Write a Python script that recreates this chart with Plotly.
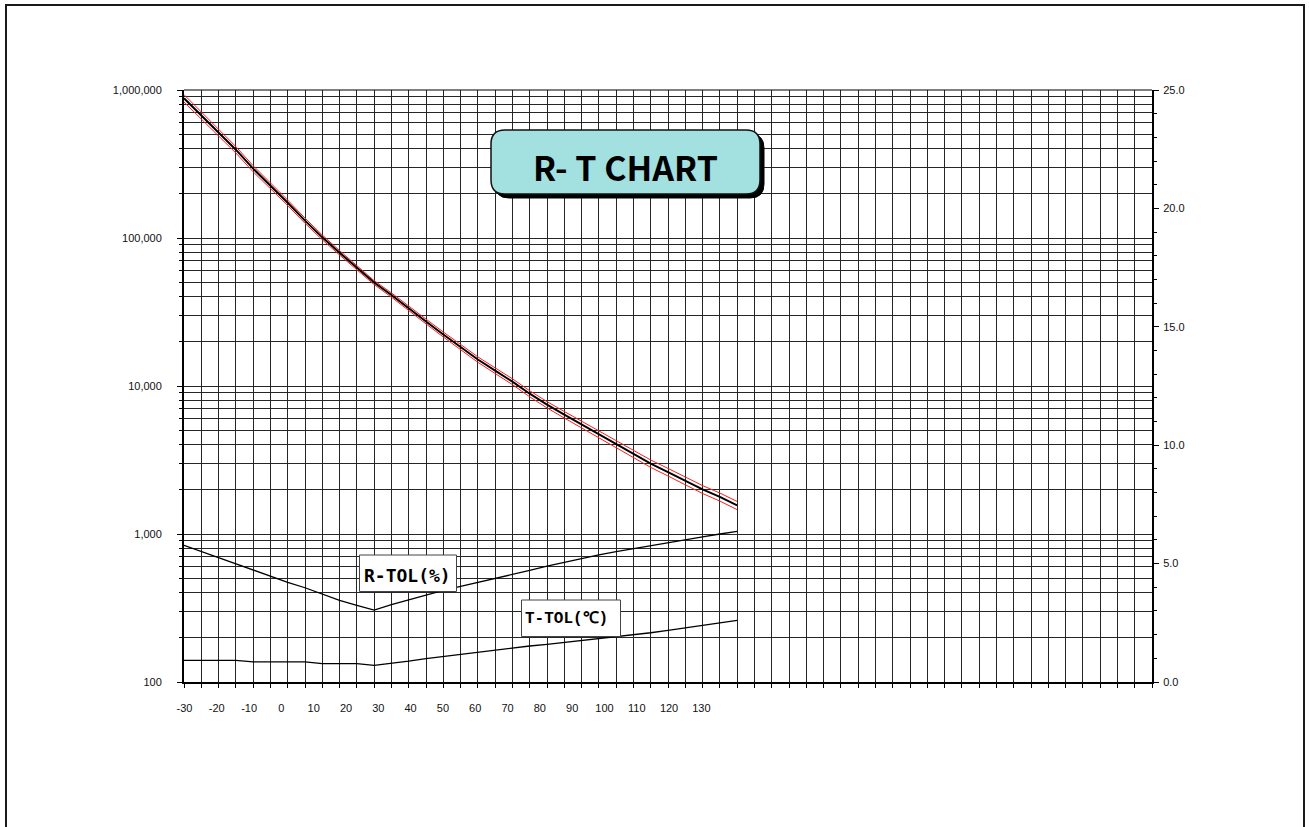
import plotly.graph_objects as go

# ---------------- data ----------------
temps = [-30, -25, -20, -15, -10, -5, 0, 5, 10, 15, 20, 25, 30, 35, 40, 45, 50,
         55, 60, 65, 70, 75, 80, 85, 90, 95, 100, 105, 110, 115, 120, 125, 130]

resistance = [880000, 672000, 511000, 395000, 294000, 226000, 173000, 131000,
              101000, 79500, 63500, 50000, 41200, 33400, 27300, 22300, 18300,
              15100, 12700, 10700, 8870, 7480, 6400, 5500, 4700, 4020, 3450,
              2990, 2620, 2300, 2000, 1780, 1560]

r_tol = [5.77, 5.51, 5.24, 4.98, 4.71, 4.44, 4.21, 3.98, 3.70, 3.45, 3.24, 3.04,
         3.27, 3.48, 3.68, 3.87, 4.04, 4.20, 4.36, 4.53, 4.71, 4.89, 5.06, 5.22,
         5.37, 5.51, 5.64, 5.77, 5.89, 6.01, 6.13, 6.25, 6.36]

t_tol = [0.91, 0.91, 0.91, 0.91, 0.85, 0.85, 0.85, 0.85, 0.78, 0.78, 0.78, 0.70,
         0.78, 0.88, 0.99, 1.08, 1.17, 1.27, 1.36, 1.44, 1.52, 1.59, 1.67, 1.74,
         1.81, 1.90, 1.98, 2.08, 2.18, 2.28, 2.40, 2.50, 2.60]

x_label_vals = [-30, -20, -10, 0, 10, 20, 30, 40, 50, 60, 70, 80, 90, 100, 110, 120, 130]
x_label_text = [str(v) for v in x_label_vals]

y_tick_vals = [100, 1000, 10000, 100000, 1000000]
y_tick_text = ["100", "1,000", "10,000", "100,000", "1,000,000"]

y2_tick_vals = [0, 5, 10, 15, 20, 25]
y2_tick_text = ["0.0", "5.0", "10.0", "15.0", "20.0", "25.0"]

title_text = "R- T CHART"
rtol_label = "R-TOL(%)"
ttol_label = "T-TOL(℃)"

# derived tolerance band of the resistance curve
r_upper = [r * (1 + t / 100.0) for r, t in zip(resistance, r_tol)]
r_lower = [r * (1 - t / 100.0) for r, t in zip(resistance, r_tol)]

# ---------------- layout geometry ----------------
W, H = 1309, 827
PX0, PX1 = 184, 1152         # plot area in page pixels
PY0, PY1 = 90, 682
L, T = PX0, PY0
R, B = W - PX1, H - PY1
PW, PH = PX1 - PX0, PY1 - PY0


def xp(px):
    return (px - PX0) / PW


def yp(py):
    return (PY1 - py) / PH


def rounded_path(x0, y0, x1, y1, r):
    pts = [
        f"M {xp(x0 + r)} {yp(y0)}",
        f"L {xp(x1 - r)} {yp(y0)}",
        f"Q {xp(x1)} {yp(y0)} {xp(x1)} {yp(y0 + r)}",
        f"L {xp(x1)} {yp(y1 - r)}",
        f"Q {xp(x1)} {yp(y1)} {xp(x1 - r)} {yp(y1)}",
        f"L {xp(x0 + r)} {yp(y1)}",
        f"Q {xp(x0)} {yp(y1)} {xp(x0)} {yp(y1 - r)}",
        f"L {xp(x0)} {yp(y0 + r)}",
        f"Q {xp(x0)} {yp(y0)} {xp(x0 + r)} {yp(y0)}",
        "Z",
    ]
    return " ".join(pts)


GRID = "#262626"
TICKFONT = dict(family="Liberation Sans, Arial, sans-serif", size=11, color="#111")

fig = go.Figure()

fig.add_trace(go.Scatter(x=temps, y=r_upper, mode="lines",
                         line=dict(color="#ff1a1a", width=1), xaxis="x", yaxis="y",
                         hoverinfo="skip"))
fig.add_trace(go.Scatter(x=temps, y=r_lower, mode="lines",
                         line=dict(color="#ff1a1a", width=1), xaxis="x", yaxis="y",
                         hoverinfo="skip"))
fig.add_trace(go.Scatter(x=temps, y=resistance, mode="lines",
                         line=dict(color="#000000", width=2), xaxis="x", yaxis="y"))
fig.add_trace(go.Scatter(x=temps, y=r_tol, mode="lines",
                         line=dict(color="#000000", width=1.3), xaxis="x", yaxis="y2"))
fig.add_trace(go.Scatter(x=temps, y=t_tol, mode="lines",
                         line=dict(color="#000000", width=1.3), xaxis="x", yaxis="y2"))
# invisible carrier for the label axis
fig.add_trace(go.Scatter(x=[x_label_vals[0]], y=[y_tick_vals[0]], mode="markers",
                         marker=dict(opacity=0), xaxis="x2", yaxis="y",
                         hoverinfo="skip"))

shapes = []
# outer frame (bottom edge lies below the window)
shapes.append(dict(type="rect", xref="paper", yref="paper",
                   x0=xp(6), x1=xp(1304), y0=yp(845), y1=yp(5),
                   line=dict(color="#1a1a1a", width=2), layer="below"))
# top border of plot
shapes.append(dict(type="line", xref="paper", yref="paper",
                   x0=0, x1=1, y0=1, y1=1, line=dict(color="#000", width=1)))
# title box shadow + box
shapes.append(dict(type="path", xref="paper", yref="paper",
                   path=rounded_path(495, 134, 764, 198, 14),
                   fillcolor="#000000", line=dict(color="#000000", width=1)))
shapes.append(dict(type="path", xref="paper", yref="paper",
                   path=rounded_path(491, 130, 760, 194, 14),
                   fillcolor="#a3e0e0", line=dict(color="#111111", width=1.5)))
# label boxes
shapes.append(dict(type="rect", xref="paper", yref="paper",
                   x0=xp(359.5), x1=xp(456.5), y0=yp(591.5), y1=yp(555),
                   fillcolor="white", line=dict(color="#444", width=1)))
shapes.append(dict(type="rect", xref="paper", yref="paper",
                   x0=xp(521.5), x1=xp(620.5), y0=yp(636.5), y1=yp(600),
                   fillcolor="white", line=dict(color="#444", width=1)))

annotations = [
    dict(xref="paper", yref="paper", x=xp(625.5), y=yp(166), text=f"<b>{title_text}</b>",
         showarrow=False, xanchor="center", yanchor="middle",
         font=dict(family="Noto Sans CJK JP, DejaVu Sans Condensed, sans-serif",
                   size=34, color="#000")),
    dict(xref="paper", yref="paper", x=xp(362), y=yp(575), text=f"<b>{rtol_label}</b>",
         showarrow=False, xanchor="left", yanchor="middle",
         font=dict(family="DejaVu Sans Mono, monospace", size=18, color="#000")),
    dict(xref="paper", yref="paper", x=xp(523), y=yp(619), text=f"<b>{ttol_label}</b>",
         showarrow=False, xanchor="left", yanchor="middle",
         font=dict(family="Liberation Mono, DejaVu Sans Mono, monospace", size=16, color="#000")),
]

fig.update_layout(
    width=W, height=H,
    margin=dict(l=L, r=R, t=T, b=B),
    paper_bgcolor="white", plot_bgcolor="white",
    showlegend=False,
    shapes=shapes,
    annotations=annotations,
    xaxis=dict(range=[-30, 250], tick0=-30, dtick=5, showticklabels=False,
               ticks="outside", ticklen=4, tickcolor="#000", tickwidth=1,
               showgrid=True, gridcolor=GRID, gridwidth=1, zeroline=False,
               showline=True, linecolor="#000", linewidth=2),
    xaxis2=dict(overlaying="x", anchor="y", side="bottom", range=[-30.15, 269.5],
                tickmode="array", tickvals=x_label_vals, ticktext=x_label_text,
                ticks="", showgrid=False, zeroline=False, showline=False,
                tickfont=TICKFONT, ticklabelstandoff=18),
    yaxis=dict(type="log", range=[2, 6], tickmode="array", tickvals=y_tick_vals,
               ticktext=y_tick_text, ticks="outside", ticklen=5, tickcolor="#000",
               showgrid=True, gridcolor=GRID, gridwidth=1, zeroline=False,
               showline=True, linecolor="#000", linewidth=2,
               minor=dict(dtick="D1", ticks="outside", ticklen=3, tickcolor="#000",
                          showgrid=True, gridcolor=GRID, gridwidth=1),
               tickfont=TICKFONT, ticklabelstandoff=13),
    yaxis2=dict(overlaying="y", anchor="x", side="right", range=[0, 25],
                tickmode="array", tickvals=y2_tick_vals, ticktext=y2_tick_text,
                ticks="outside", ticklen=5, tickcolor="#000",
                minor=dict(dtick=1, ticks="outside", ticklen=3, tickcolor="#000",
                           showgrid=False),
                showgrid=False, zeroline=False, showline=True, linecolor="#000",
                linewidth=2, tickfont=TICKFONT, ticklabelstandoff=2),
)

fig.write_html("out.html",
               config={"displayModeBar": False},
               post_script="document.body.style.margin='0px';"
                           "document.body.style.overflow='hidden';")
